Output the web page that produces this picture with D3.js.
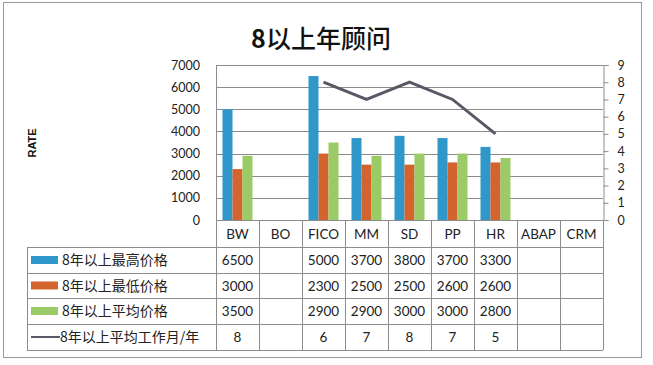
<!DOCTYPE html>
<html><head><meta charset="utf-8">
<script src="https://cdn.jsdelivr.net/npm/d3@7"></script>
<style>body{margin:0;background:#fff;}svg{display:block;}</style>
</head><body>
<script>
const categories = ["BW","BO","FICO","MM","SD","PP","HR","ABAP","CRM"];
const seriesNames = ["8年以上最高价格","8年以上最低价格","8年以上平均价格","8年以上平均工作月/年"];
// bar values as drawn in the chart
const maxPrice = [5000,null,6500,3700,3800,3700,3300,null,null];
const minPrice = [2300,null,3000,2500,2500,2600,2600,null,null];
const avgPrice = [2900,null,3500,2900,3000,3000,2800,null,null];
const avgYears = [null,null,8,7,8,7,5,null,null];
// data table text as printed under the chart
const tableMax = ["6500","","5000","3700","3800","3700","3300","",""];
const tableMin = ["3000","","2300","2500","2500","2600","2600","",""];
const tableAvg = ["3500","","2900","2900","3000","3000","2800","",""];
const tableYears = ["8","","6","7","8","7","5","",""];
const leftTicks = [0,1000,2000,3000,4000,5000,6000,7000];
const rightTicks = [0,1,2,3,4,5,6,7,8,9];
const colors = ["#2F97C9","#D4642E","#9BCB67","#595966"];

const W=653,H=365;
const svg=d3.select("body").append("svg").attr("width",W).attr("height",H);
const latin="Lato, 'Open Sans', sans-serif";
const cjk="'Noto Sans CJK SC', sans-serif";

svg.append("rect").attr("x",3.5).attr("y",2.5).attr("width",638).attr("height",355)
  .attr("fill","#fff").attr("stroke","#9a9a9a");

const title=svg.append("text").attr("x",321).attr("y",48).attr("text-anchor","middle")
  .attr("font-family",cjk).attr("font-size",25).attr("fill","#111");
title.append("tspan").attr("font-weight","bold").text("8");
title.append("tspan").attr("font-weight",500).text("以上年顾问");

const L=216,R=603,T=65,B=220;
const x=d3.scaleBand().domain(categories).range([L,R]);
const y=d3.scaleLinear().domain([0,7000]).range([B,T]);
const y2=d3.scaleLinear().domain([0,9]).range([B,T]);
const x1=d3.scaleBand().domain([0,1,2]).range([0,30]);

// grid
svg.append("g").selectAll("line").data(leftTicks.filter(d=>d>0)).join("line")
  .attr("x1",L).attr("x2",R).attr("y1",d=>Math.round(y(d))+0.5).attr("y2",d=>Math.round(y(d))+0.5)
  .attr("stroke","#8c8c8c").attr("stroke-width",1);

// left axis labels
const ga=svg.append("g").attr("transform",`translate(${L},0)`)
  .call(d3.axisLeft(y).tickValues(leftTicks).tickFormat(d3.format("d")).tickSize(0).tickPadding(16));
ga.select(".domain").attr("stroke","#8c8c8c");
ga.selectAll("text").attr("font-family",latin).attr("font-size",12.5).attr("fill","#222");

// right axis
const gr=svg.append("g").attr("transform",`translate(${R+0.5},0)`)
  .call(d3.axisRight(y2).tickValues(rightTicks).tickFormat(d3.format("d")).tickSize(5).tickPadding(9));
gr.select(".domain").attr("stroke","#8c8c8c");
gr.selectAll(".tick line").attr("stroke","#8c8c8c");
gr.selectAll("text").attr("font-family",latin).attr("font-size",12.5).attr("fill","#222");

// RATE label
svg.append("text").attr("transform","translate(36,143) rotate(-90)").attr("text-anchor","middle")
  .attr("font-family","'Liberation Sans', Arial, sans-serif").attr("font-weight","bold").attr("font-size",11)
  .attr("fill","#111").text("RATE");

// bars
const barSeries=[maxPrice,minPrice,avgPrice];
barSeries.forEach((s,si)=>{
  svg.append("g").selectAll("rect").data(categories.map((c,i)=>({c,v:s[i]})).filter(d=>d.v!=null))
    .join("rect")
    .attr("x",d=>x(d.c)+x.bandwidth()/2-15+x1(si))
    .attr("width",x1.bandwidth())
    .attr("y",d=>y(d.v)).attr("height",d=>B-y(d.v))
    .attr("fill",colors[si]);
});

// line
const lineData=categories.map((c,i)=>({c,v:avgYears[i]})).filter(d=>d.v!=null);
svg.append("path").datum(lineData)
  .attr("d",d3.line().x(d=>x(d.c)+x.bandwidth()/2).y(d=>y2(d.v)))
  .attr("fill","none").attr("stroke",colors[3]).attr("stroke-width",3);

// x axis line
svg.append("line").attr("x1",L).attr("x2",R).attr("y1",B+0.5).attr("y2",B+0.5).attr("stroke","#8c8c8c");

// data table
const rows=[220,247,273,298,324,350];
const TL=27;
const tg=svg.append("g").attr("stroke","#8c8c8c").attr("stroke-width",1);
rows.slice(1).forEach(r=>tg.append("line").attr("x1",TL).attr("x2",R).attr("y1",r+0.5).attr("y2",r+0.5));
tg.append("line").attr("x1",TL+0.5).attr("x2",TL+0.5).attr("y1",rows[1]).attr("y2",rows[5]);
categories.forEach(c=>tg.append("line").attr("x1",Math.round(x(c))+0.5).attr("x2",Math.round(x(c))+0.5).attr("y1",B).attr("y2",rows[5]));
tg.append("line").attr("x1",R+0.5).attr("x2",R+0.5).attr("y1",B).attr("y2",rows[5]);

svg.append("g").selectAll("text").data(categories).join("text")
  .attr("x",d=>x(d)+x.bandwidth()/2).attr("y",(rows[0]+rows[1])/2+5)
  .attr("text-anchor","middle").attr("font-family",latin).attr("font-size",13.5).attr("fill","#222").text(d=>d);

const tableRows=[tableMax,tableMin,tableAvg,tableYears];
tableRows.forEach((row,ri)=>{
  const cy=(rows[ri+1]+rows[ri+2])/2;
  svg.append("g").selectAll("text").data(categories.map((c,i)=>({c,t:row[i]}))).join("text")
    .attr("x",d=>x(d.c)+x.bandwidth()/2).attr("y",cy+5)
    .attr("text-anchor","middle").attr("font-family",latin).attr("font-size",13.5).attr("fill","#222").text(d=>d.t);
  // legend key
  if(ri<3){
    svg.append("rect").attr("x",31).attr("y",cy-4).attr("width",27).attr("height",8).attr("fill",colors[ri]);
  } else {
    svg.append("line").attr("x1",31).attr("x2",60).attr("y1",cy).attr("y2",cy).attr("stroke",colors[3]).attr("stroke-width",2);
  }
  svg.append("text").attr("x",ri<3?62:60).attr("y",cy+5).attr("font-family",cjk).attr("font-size",14)
    .attr("fill","#222").text(seriesNames[ri]);
});
</script>
</body></html>
